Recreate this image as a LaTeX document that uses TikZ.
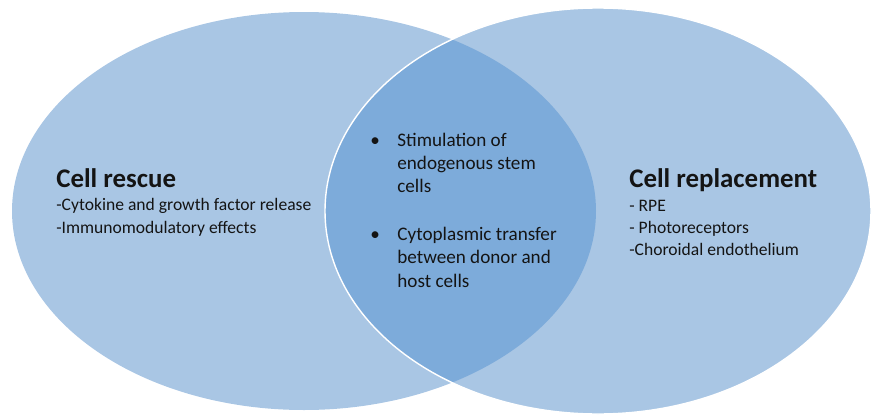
\documentclass[tikz,border=0pt]{standalone}
\usepackage{fontspec}
\setmainfont{Carlito}
\usetikzlibrary{positioning}
\definecolor{vennchiaro}{RGB}{169,198,228}
\definecolor{vennscuro}{RGB}{125,171,218}
\definecolor{testo}{RGB}{20,20,20}
\tikzset{
titolo/.style={anchor=base west,inner sep=0pt,text=testo,font=\fontsize{15.3}{18}\selectfont\bfseries},
voce/.style={anchor=base west,inner sep=0pt,text=testo,font=\fontsize{10}{12}\selectfont},
centro/.style={anchor=base west,inner sep=0pt,text=testo,font=\fontsize{10.9}{13}\selectfont},
sinistro/.style={x radius=292,y radius=199},
destro/.style={x radius=273,y radius=203}}

\begin{document}
\begin{tikzpicture}[x=0.02cm,y=-0.02cm]
\useasboundingbox (0,0) rectangle (873,416);

\coordinate (cs) at (304,211);
\coordinate (cd) at (598,211);

\fill[vennchiaro] (cs) ellipse [sinistro];
\fill[vennchiaro] (cd) ellipse [destro];
\begin{scope}
\clip (cs) ellipse [sinistro];
\fill[vennscuro] (cd) ellipse [destro];
\end{scope}
\draw[white,line width=0.8pt] (cd) ellipse [destro];

\node[titolo] (rescue) at (56,187) {Cell rescue};
\node[voce] (cytokine) at (56,210) {-Cytokine and growth factor release};
\node[voce] (immuno) at (56,233) {-Immunomodulatory effects};

\node[titolo] (replacement) at (629,187) {Cell replacement};
\node[voce] (rpe) at (629,211) {- RPE};
\node[voce] (photo) at (629,233) {- Photoreceptors};
\node[voce] (choroid) at (629,255) {-Choroidal endothelium};

\node[centro] (b1) at (370,146) {•};
\node[centro] (stim) at (397,146) {Stimulation of};
\node[centro] (endo) at (397,169) {endogenous stem};
\node[centro] (cells) at (397,192) {cells};
\node[centro] (b2) at (370,240) {•};
\node[centro] (cyto) at (397,240) {Cytoplasmic transfer};
\node[centro] (between) at (397,263) {between donor and};
\node[centro] (host) at (397,287) {host cells};

\end{tikzpicture}
\end{document}
